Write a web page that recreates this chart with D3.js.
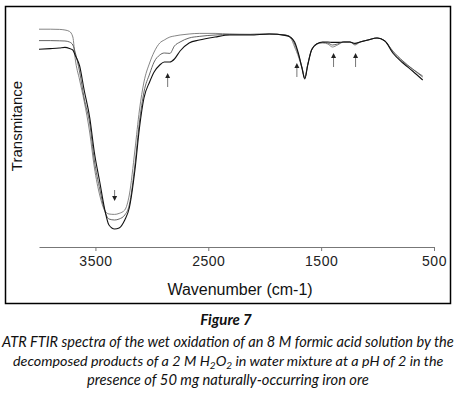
<!DOCTYPE html>
<html>
<head>
<meta charset="utf-8">
<script src="https://cdn.jsdelivr.net/npm/d3@7"></script>
<style>
  body { margin: 0; background: #fff; }
  svg { display: block; }
</style>
</head>
<body>
<div id="chart"></div>
<script>
// wavenumber grid (cm-1) shared by the three spectra
const wavenumbers = [4000, 3900, 3820, 3770, 3730, 3700, 3680, 3640, 3600, 3550,
  3510, 3460, 3420, 3380, 3330, 3290, 3240, 3200, 3150, 3110,
  3070, 3020, 2980, 2930, 2890, 2840, 2800, 2750, 2670, 2580,
  2440, 2310, 2130, 1960, 1820, 1770, 1735, 1700, 1670, 1645,
  1620, 1585, 1540, 1485, 1440, 1400, 1355, 1300, 1245, 1200,
  1155, 1085, 1005, 935, 865, 775, 690, 600];

// transmittance, arbitrary units
const spectrumA = [108.9, 108.9, 108.8, 108.5, 107.8, 105, 94.5, 83.5, 73, 57,
  40, 25.5, 18.5, 16.5, 16.3, 16.8, 18.5, 26, 48.5, 68.5,
  82.5, 92, 97.5, 102, 103.5, 105, 105.5, 106, 106.5, 106.8,
  106.8, 106.5, 106.3, 106.5, 106, 104.5, 100, 95, 89.5, 84.5,
  91, 98.5, 101.5, 102, 101.5, 100, 101, 102.5, 102.5, 101,
  102.5, 103.5, 104.5, 103, 97.5, 92.5, 89, 85.5];

const spectrumB = [103.2, 103.2, 103.1, 103, 102.5, 101, 97.5, 87.5, 74.5, 61.5,
  43.5, 28.5, 18.5, 14, 13.5, 14, 16, 21, 41, 62.5,
  77.5, 86.5, 92.5, 96, 97, 96.8, 100.5, 102.5, 104.5, 105.3,
  106, 106.3, 106.3, 106.5, 106, 105, 101.5, 96, 90, 84.5,
  91, 98.5, 101.5, 102.3, 102, 101, 101.5, 102.5, 102.5, 101.5,
  102.5, 103.5, 104.5, 103, 98, 93, 89, 85];

const spectrumC = [98.9, 99.2, 99.5, 99.8, 99.3, 98.5, 96, 90.5, 78.5, 64.5,
  47.5, 32, 19.5, 11, 9, 9.5, 13.5, 19.5, 38.5, 59.5,
  74.5, 82.5, 87.5, 91, 92.5, 92.5, 94, 98, 102, 103.5,
  105, 106, 106, 106.5, 105.8, 104.8, 102.5, 96.5, 89.5, 84,
  90.5, 98.5, 101.5, 102.5, 102.5, 102.3, 102.3, 102.5, 102.5, 101.8,
  102.5, 103.5, 104.5, 103, 97, 92, 88, 83.5];

const xTicks = [3500, 2500, 1500, 500];

// arrows: wavenumber, tail, head (transmittance)
const arrowWn   = [3330, 2860, 1715, 1390, 1195];
const arrowTail = [28.5, 80, 85, 90, 90];
const arrowHead = [23, 87, 92, 97, 97];

const captionLines = [
  'ATR FTIR spectra of the wet oxidation of an 8 M formic acid solution by the',
  'decomposed products of a 2 M H_2O_2 in water mixture at a pH of 2 in the',
  'presence of 50 mg naturally-occurring iron ore'
];

const W = 457, H = 398;
const svg = d3.select('#chart').append('svg')
  .attr('width', W).attr('height', H);

const x = d3.scaleLinear().domain([4000, 500]).range([39, 434]);
const y = d3.scaleLinear().domain([0, 120]).range([247, 7]);

// frame
svg.append('rect')
  .attr('x', 5.5).attr('y', 6.5).attr('width', 445).attr('height', 297)
  .attr('fill', 'none').attr('stroke', '#000').attr('stroke-width', 1.5);

// x axis
const ax = svg.append('g').attr('transform', `translate(0,${y(0)})`)
  .call(d3.axisBottom(x).tickValues(xTicks).tickSize(4).tickSizeOuter(0)
    .tickPadding(5).tickFormat(d3.format('d')));
ax.select('.domain').attr('stroke', '#777');
ax.selectAll('.tick line').attr('stroke', '#777');
ax.selectAll('.tick text')
  .attr('fill', '#222')
  .style('font-family', 'Liberation Sans, Arial, sans-serif')
  .style('font-size', '14px')
  .style('letter-spacing', '0.5px');

svg.append('text')
  .attr('x', 240).attr('y', 295)
  .attr('text-anchor', 'middle')
  .style('font-family', 'Liberation Sans, Arial, sans-serif')
  .style('font-size', '16px')
  .attr('fill', '#111')
  .text('Wavenumber (cm-1)');

svg.append('text')
  .attr('transform', 'translate(22,126) rotate(-90)')
  .attr('text-anchor', 'middle')
  .style('font-family', 'Liberation Sans, Arial, sans-serif')
  .style('font-size', '15px')
  .attr('fill', '#111')
  .text('Transmitance');

// spectra
const line = d3.line()
  .x((d, i) => x(wavenumbers[i]))
  .y(d => y(d))
  .curve(d3.curveMonotoneX);

const series = [
  { values: spectrumA, color: '#777', width: 0.9 },
  { values: spectrumB, color: '#555', width: 0.9 },
  { values: spectrumC, color: '#111', width: 1.1 }
];

series.forEach(s => {
  svg.append('path')
    .datum(s.values)
    .attr('fill', 'none')
    .attr('stroke', s.color)
    .attr('stroke-width', s.width)
    .attr('d', line);
});

// arrows
arrowWn.forEach((wn, i) => {
  const ax0 = x(wn), yt = y(arrowTail[i]), yh = y(arrowHead[i]);
  const dir = yh < yt ? 1 : -1; // 1 = pointing up
  svg.append('line')
    .attr('x1', ax0).attr('x2', ax0)
    .attr('y1', yt).attr('y2', yh + dir * 3)
    .attr('stroke', '#777').attr('stroke-width', 1);
  svg.append('path')
    .attr('d', `M${ax0},${yh} L${ax0 - 2.5},${yh + dir * 5} L${ax0 + 2.5},${yh + dir * 5} Z`)
    .attr('fill', '#222');
});

// caption
svg.append('text')
  .attr('x', 226).attr('y', 325)
  .attr('text-anchor', 'middle')
  .style('font-family', 'Lato, sans-serif')
  .style('font-style', 'italic')
  .style('font-weight', 'bold')
  .style('font-size', '15px')
  .attr('fill', '#111')
  .text('Figure 7');

const capY = [347, 366, 385];
const capX = [[2, 452], [13, 430], [87, 282]];
captionLines.forEach((t, i) => {
  const txt = svg.append('text')
    .attr('x', capX[i][0]).attr('y', capY[i])
    .style('font-family', 'Lato, sans-serif')
    .style('font-style', 'italic')
    .style('font-size', '15px')
    .attr('fill', '#111');
  // "_x" marks a subscript character
  const parts = t.split(/(_\d)/);
  let lowered = false;
  parts.forEach(p => {
    if (!p) return;
    if (p[0] === '_') {
      txt.append('tspan').attr('dy', lowered ? 0 : 3).style('font-size', '10px').text(p.slice(1));
      lowered = true;
    } else {
      txt.append('tspan').attr('dy', lowered ? -3 : 0).text(p);
      lowered = false;
    }
  });
  // fit to the width of the original line
  const w = txt.node().getComputedTextLength();
  const fs = 15 * capX[i][1] / w;
  txt.style('font-size', fs + 'px');
});
</script>
</body>
</html>
